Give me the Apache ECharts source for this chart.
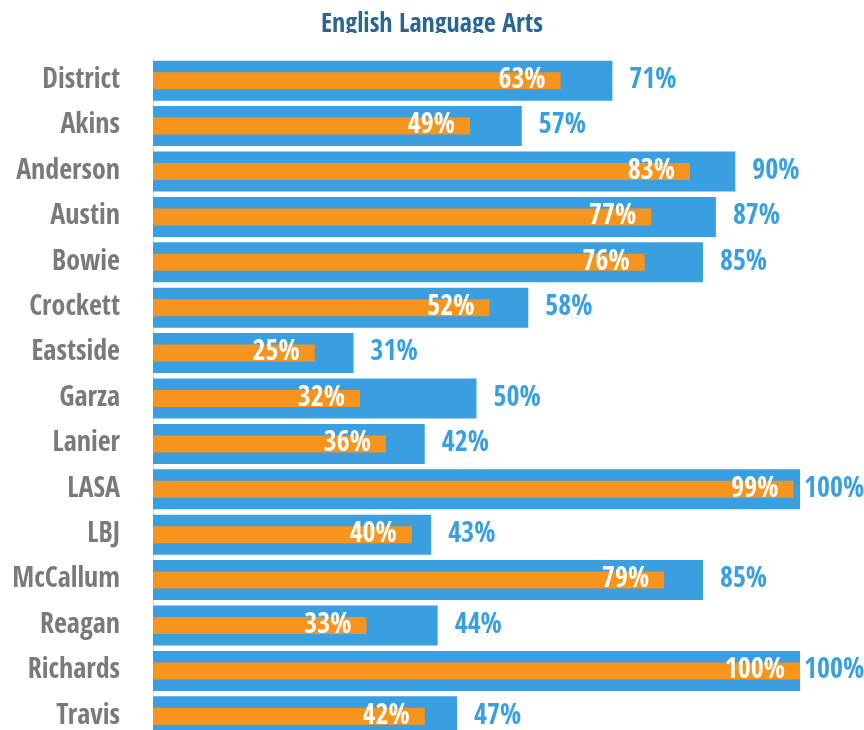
<!DOCTYPE html>
<html>
<head>
<meta charset="utf-8">
<title>English Language Arts</title>
<script src="https://cdn.jsdelivr.net/npm/echarts@6/dist/echarts.min.js"></script>
<style>
	html, body { margin: 0; padding: 0; background: #fff; }
	#main { width: 864px; height: 730px; }
</style>
</head>
<body>
<div id="main"></div>
<script>
// schools, top to bottom
var schools = ['District', 'Akins', 'Anderson', 'Austin', 'Bowie', 'Crockett', 'Eastside', 'Garza',
	'Lanier', 'LASA', 'LBJ', 'McCallum', 'Reagan', 'Richards', 'Travis'];
// wide blue bars
var blueValues = [71, 57, 90, 87, 85, 58, 31, 50, 42, 100, 43, 85, 44, 100, 47];
// narrow orange bars
var orangeValues = [63, 49, 83, 77, 76, 52, 25, 32, 36, 99, 40, 79, 33, 100, 42];

var font = '"Open Sans Condensed", "Roboto Condensed", "DejaVu Sans Condensed", sans-serif';
var blue = '#3a9fe0';
var orange = '#f7941e';

var myChart = echarts.init(document.getElementById('main'));

// the 100% labels sit closer to the bar end, like in the original
var blueData = blueValues.map(function (v) {
	if (v >= 100) {
		return { value: v, label: { distance: 4 } };
	}
	return v;
});

var option = {
	backgroundColor: '#ffffff',
	animation: false,
	title: {
		text: 'English Language Arts',
		left: 'center',
		top: 7,
		textStyle: {
			color: '#2b6591',
			fontFamily: font,
			fontWeight: 'bold',
			fontSize: 26
		}
	},
	grid: {
		left: 153,
		right: 64,
		top: 58,
		bottom: -9,
		outerBoundsMode: 'none',
		containLabel: false
	},
	xAxis: {
		type: 'value',
		min: 0,
		max: 100,
		show: false
	},
	yAxis: [{
		type: 'category',
		data: schools,
		inverse: true,
		axisLine: { show: true, lineStyle: { color: '#dadada', width: 1 } },
		axisTick: { show: false },
		axisLabel: {
			color: '#7a7a7a',
			fontFamily: font,
			fontWeight: 'bold',
			fontSize: 28,
			margin: 33,
			padding: [4, 0, 0, 0]
		}
	}, {
		type: 'category',
		data: schools,
		inverse: true,
		show: false
	}],
	series: [{
		name: 'blue',
		type: 'bar',
		yAxisIndex: 0,
		data: blueData,
		barWidth: 40,
		itemStyle: { color: blue },
		label: {
			show: true,
			position: 'right',
			distance: 17,
			formatter: '{c}%',
			color: blue,
			fontFamily: font,
			fontWeight: 'bold',
			fontSize: 28
		}
	}, {
		name: 'orange',
		type: 'bar',
		yAxisIndex: 1,
		data: orangeValues,
		barWidth: 17,
		z: 3,
		itemStyle: { color: orange },
		label: {
			show: true,
			position: 'insideRight',
			distance: 15,
			formatter: '{c}%',
			color: '#ffffff',
			fontFamily: font,
			fontWeight: 'bold',
			fontSize: 28
		}
	}],
	graphic: [{
		// the title is cut off at the bottom in the original
		type: 'rect',
		left: 0,
		top: 33,
		z: 100,
		shape: { width: 864, height: 20 },
		style: { fill: '#ffffff' }
	}]
};
myChart.setOption(option);
</script>
</body>
</html>
